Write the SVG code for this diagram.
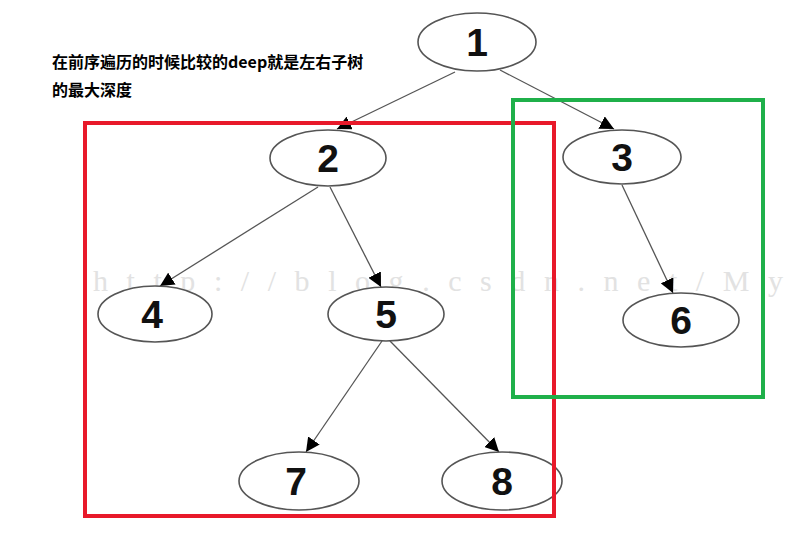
<svg xmlns="http://www.w3.org/2000/svg" width="788" height="534" viewBox="0 0 788 534">
<style>
.n ellipse{fill:#fff;stroke:#555;stroke-width:1.6}
.n text{font-family:"Liberation Sans",Arial,sans-serif;font-weight:bold;font-size:39px;fill:#111;text-anchor:middle}
.e line{stroke:#555;stroke-width:1.3;marker-end:url(#ah)}
.cap{font-family:"Noto Sans CJK SC","Liberation Sans",sans-serif;font-weight:bold;font-size:16px;fill:#000}
</style>
<defs>
<marker id="ah" viewBox="0 0 10 10" refX="10" refY="5" markerWidth="14" markerHeight="14" markerUnits="userSpaceOnUse" orient="auto">
<path d="M0,0 L10,5 L0,10 z" fill="#000"/>
</marker>
</defs>
<rect width="788" height="534" fill="#fff"/>
<text x="93" y="291" font-family="'Liberation Serif',serif" font-size="30" fill="#e2e2e2" textLength="690" lengthAdjust="spacing">http://blog.csdn.net/My</text>
<g id="caption">
<text class="cap" x="52" y="68">在前序遍历的时候比较的deep就是左右子树</text>
<text class="cap" x="52" y="96">的最大深度</text>
</g>
<g id="edges" class="e">
<line x1="455" y1="72" x2="337" y2="129"/>
<line x1="500" y1="70" x2="614" y2="129"/>
<line x1="318" y1="187" x2="160" y2="286"/>
<line x1="330" y1="187" x2="381" y2="287"/>
<line x1="622" y1="185" x2="673" y2="293"/>
<line x1="382" y1="341" x2="306" y2="452"/>
<line x1="390" y1="341" x2="499" y2="452"/>
</g>
<g id="n1" class="n"><ellipse cx="477" cy="42" rx="59" ry="29"/><text x="477" y="56">1</text></g>
<g id="n2" class="n"><ellipse cx="328" cy="158" rx="58" ry="28"/><text x="328" y="172">2</text></g>
<g id="n3" class="n"><ellipse cx="622" cy="157" rx="59" ry="27"/><text x="622" y="171">3</text></g>
<g id="n4" class="n"><ellipse cx="155" cy="314" rx="57" ry="28"/><text x="152" y="328">4</text></g>
<g id="n5" class="n"><ellipse cx="386" cy="314" rx="58" ry="27"/><text x="386" y="328">5</text></g>
<g id="n6" class="n"><ellipse cx="681" cy="320" rx="58" ry="27"/><text x="681" y="334">6</text></g>
<g id="n7" class="n"><ellipse cx="299" cy="481" rx="60" ry="29"/><text x="296" y="495">7</text></g>
<g id="n8" class="n"><ellipse cx="502" cy="481" rx="60" ry="29"/><text x="502" y="495">8</text></g>
<rect id="red-box" x="85" y="123" width="469" height="393" fill="none" stroke="#e8192a" stroke-width="4"/>
<rect id="green-box" x="513" y="100" width="250" height="297" fill="none" stroke="#1fb04a" stroke-width="4"/>
</svg>
